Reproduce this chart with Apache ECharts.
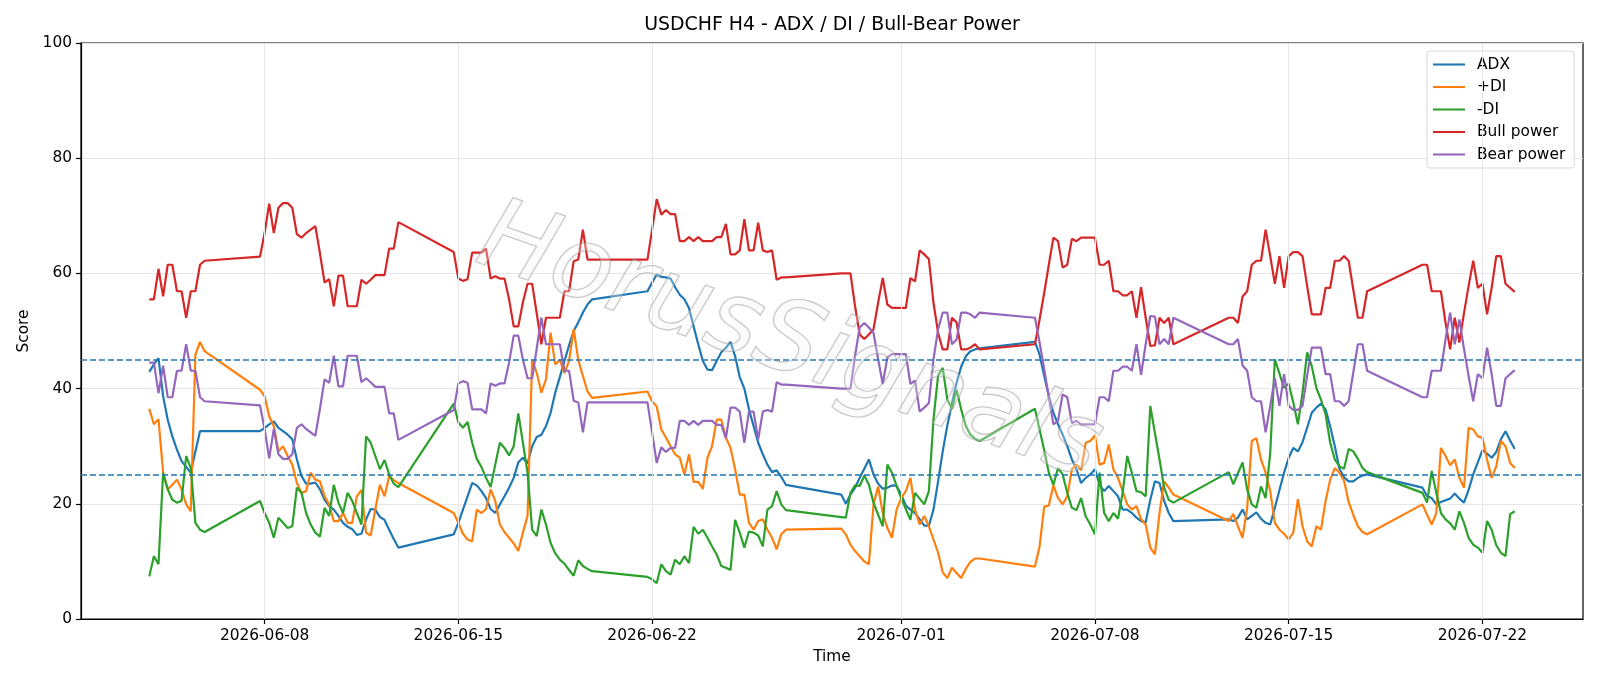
<!DOCTYPE html>
<html>
<head>
<meta charset="utf-8">
<script src="https://cdn.jsdelivr.net/npm/echarts@6.0.0/dist/echarts.min.js"></script>
<style>
html,body{margin:0;padding:0;background:#fff;}
#chart{width:1600px;height:686px;}
</style>
</head>
<body>
<div id="chart"></div>
<script>
// ---- DATA ----
const chartTitle = 'USDCHF H4 - ADX / DI / Bull-Bear Power';
const seriesNames = ['ADX', '+DI', '-DI', 'Bull power', 'Bear power'];
const xTickLabels = ['2026-06-08', '2026-06-15', '2026-06-22', '2026-07-01', '2026-07-08', '2026-07-15', '2026-07-22'];
const yTicks = [0, 20, 40, 60, 80, 100];
const refLevels = [45, 25];

const times = (
'06-03T20 06-04T00 06-04T04 06-04T08 06-04T12 06-04T16 06-04T20 06-05T00 06-05T04 06-05T08 06-05T12 06-05T16 06-05T20 ' +
'06-07T20 06-08T00 06-08T04 06-08T08 06-08T12 06-08T16 06-08T20 06-09T00 06-09T04 06-09T08 06-09T12 06-09T16 06-09T20 06-10T00 06-10T04 06-10T08 06-10T12 06-10T16 06-10T20 06-11T00 06-11T04 06-11T08 06-11T12 06-11T16 06-11T20 06-12T00 06-12T04 06-12T08 06-12T12 06-12T16 06-12T20 ' +
'06-14T20 06-15T00 06-15T04 06-15T08 06-15T12 06-15T16 06-15T20 06-16T00 06-16T04 06-16T08 06-16T12 06-16T16 06-16T20 06-17T00 06-17T04 06-17T08 06-17T12 06-17T16 06-17T20 06-18T00 06-18T04 06-18T08 06-18T12 06-18T16 06-18T20 06-19T00 06-19T04 06-19T08 06-19T12 06-19T16 06-19T20 ' +
'06-21T20 06-22T00 06-22T04 06-22T08 06-22T12 06-22T16 06-22T20 06-23T00 06-23T04 06-23T08 06-23T12 06-23T16 06-23T20 06-24T00 06-24T04 06-24T08 06-24T12 06-24T16 06-24T20 06-25T00 06-25T04 06-25T08 06-25T12 06-25T16 06-25T20 06-26T00 06-26T04 06-26T08 06-26T12 06-26T16 06-26T20 ' +
'06-28T20 06-29T00 06-29T04 06-29T08 06-29T12 06-29T16 06-29T20 06-30T00 06-30T04 06-30T08 06-30T12 06-30T16 06-30T20 07-01T00 07-01T04 07-01T08 07-01T12 07-01T16 07-01T20 07-02T00 07-02T04 07-02T08 07-02T12 07-02T16 07-02T20 07-03T00 07-03T04 07-03T08 07-03T12 07-03T16 07-03T20 ' +
'07-05T20 07-06T00 07-06T04 07-06T08 07-06T12 07-06T16 07-06T20 07-07T00 07-07T04 07-07T08 07-07T12 07-07T16 07-07T20 07-08T00 07-08T04 07-08T08 07-08T12 07-08T16 07-08T20 07-09T00 07-09T04 07-09T08 07-09T12 07-09T16 07-09T20 07-10T00 07-10T04 07-10T08 07-10T12 07-10T16 07-10T20 ' +
'07-12T20 07-13T00 07-13T04 07-13T08 07-13T12 07-13T16 07-13T20 07-14T00 07-14T04 07-14T08 07-14T12 07-14T16 07-14T20 07-15T00 07-15T04 07-15T08 07-15T12 07-15T16 07-15T20 07-16T00 07-16T04 07-16T08 07-16T12 07-16T16 07-16T20 07-17T00 07-17T04 07-17T08 07-17T12 07-17T16 07-17T20 ' +
'07-19T20 07-20T00 07-20T04 07-20T08 07-20T12 07-20T16 07-20T20 07-21T00 07-21T04 07-21T08 07-21T12 07-21T16 07-21T20 07-22T00 07-22T04 07-22T08 07-22T12 07-22T16 07-22T20 07-23T00 07-23T04'
).trim().split(/\s+/);

const adx = [
42.9, 44.2, 45.3, 38.7, 34.6, 31.7, 29.4, 27.4, 26.4, 25.4, 29.1, 32.6, 32.6,
32.6, 33.2, 33.8, 34.3, 33.2, 32.6, 32.0, 31.2, 27.7, 24.8, 23.5, 23.5, 23.7, 22.5, 20.7, 19.6, 19.0, 17.9, 16.7, 16.0, 15.6, 14.6, 14.8, 17.3, 19.1, 19.0, 17.7, 17.2, 15.5, 13.9, 12.4,
14.7, 16.7, 19.0, 21.3, 23.6, 23.2, 22.2, 21.0, 19.1, 18.4, 19.9, 21.3, 22.8, 24.5, 27.2, 28.0, 27.0, 30.0, 31.6, 32.0, 33.5, 35.8, 39.3, 42.0, 44.8, 47.5, 50.0, 51.5, 53.2, 54.6, 55.5,
56.9, 58.4, 59.8, 59.4, 59.3, 59.1, 57.6, 56.3, 55.5, 54.0, 50.8, 47.7, 44.8, 43.3, 43.2, 44.8, 46.3, 47.1, 48.1, 45.6, 42.0, 40.0, 36.4, 33.5, 30.6, 28.6, 26.8, 25.5, 25.8, 24.7, 23.3,
21.6, 20.0, 21.6, 22.8, 24.5, 26.1, 27.7, 25.1, 23.5, 22.6, 22.8, 23.2, 23.1, 21.6, 19.7, 19.0, 18.4, 17.3, 16.2, 16.2, 19.0, 23.9, 29.1, 33.6, 37.4, 41.0, 43.8, 45.6, 46.5, 46.8, 47.0,
48.1, 45.9, 42.2, 38.7, 35.8, 33.8, 32.0, 30.0, 27.7, 26.0, 23.6, 24.5, 25.1, 26.0, 23.3, 22.2, 23.1, 22.2, 21.3, 19.0, 19.0, 18.4, 17.6, 17.0, 16.8, 20.7, 23.9, 23.6, 20.5, 18.4, 17.0,
17.3, 17.0, 17.6, 19.0, 17.3, 17.9, 18.5, 17.4, 16.7, 16.4, 19.3, 22.4, 25.4, 28.0, 29.7, 29.1, 30.7, 33.2, 35.8, 36.7, 37.4, 36.4, 33.4, 30.0, 26.1, 24.6, 23.9, 23.9, 24.5, 24.9, 25.1,
22.8, 21.3, 21.0, 19.9, 20.3, 20.6, 20.9, 21.8, 20.9, 20.2, 22.4, 25.1, 27.2, 29.3, 28.7, 28.0, 29.0, 31.2, 32.6, 31.0, 29.5
];

const plusDI = [
36.5, 33.8, 34.7, 25.4, 22.5, 23.3, 24.2, 22.5, 19.9, 18.7, 45.9, 48.1, 46.5,
39.8, 38.7, 35.2, 33.5, 29.1, 30.0, 28.3, 26.8, 23.6, 21.9, 22.2, 25.4, 24.2, 23.9, 21.3, 19.9, 17.0, 17.0, 18.4, 16.7, 16.7, 21.3, 22.4, 15.0, 14.5, 19.0, 23.3, 21.3, 24.8, 24.1, 23.6,
18.4, 16.7, 14.8, 13.8, 13.5, 19.0, 18.4, 19.1, 22.5, 20.5, 16.4, 15.1, 14.1, 13.1, 11.8, 15.0, 17.9, 45.0, 42.7, 39.3, 41.6, 49.7, 44.2, 45.0, 42.7, 44.8, 50.3, 45.0, 42.2, 39.5, 38.4,
39.5, 37.8, 36.9, 32.9, 31.5, 30.0, 28.6, 28.0, 25.1, 28.6, 23.8, 23.8, 22.6, 28.0, 30.0, 34.6, 34.6, 31.5, 29.7, 26.0, 21.6, 21.6, 16.7, 15.5, 17.0, 17.3, 15.5, 14.1, 12.1, 14.7, 15.5,
15.7, 14.7, 12.9, 11.8, 10.9, 10.0, 9.5, 19.9, 23.0, 18.4, 15.8, 14.1, 19.0, 21.0, 22.2, 24.5, 19.0, 16.4, 17.9, 16.1, 13.8, 11.5, 8.1, 7.1, 8.9, 8.0, 7.1, 8.7, 9.9, 10.5, 10.5,
9.1, 12.6, 19.5, 19.7, 23.2, 21.0, 19.9, 21.3, 26.0, 26.8, 25.8, 30.6, 30.9, 31.9, 26.8, 27.1, 30.3, 26.0, 24.5, 22.2, 19.9, 19.0, 19.6, 17.3, 16.4, 12.4, 11.2, 18.4, 23.9, 22.8, 21.6,
17.0, 18.2, 16.1, 14.1, 19.3, 30.9, 31.4, 27.7, 25.4, 22.2, 16.7, 15.5, 14.8, 13.8, 15.0, 20.8, 16.1, 13.5, 12.6, 16.1, 15.5, 20.5, 24.2, 26.2, 25.4, 24.0, 20.3, 18.1, 16.1, 15.1, 14.7,
19.9, 18.1, 16.4, 18.4, 29.7, 28.3, 26.7, 27.7, 24.5, 22.8, 33.2, 32.9, 31.7, 31.5, 27.7, 24.5, 26.5, 30.9, 30.0, 27.1, 26.2
];

const minusDI = [
7.4, 10.9, 9.5, 25.4, 22.5, 20.7, 20.2, 20.5, 28.3, 26.2, 16.7, 15.5, 15.1,
20.5, 18.4, 16.7, 14.1, 17.6, 16.7, 15.8, 16.1, 22.8, 21.9, 18.4, 16.4, 15.0, 14.3, 19.3, 17.9, 23.3, 20.2, 18.4, 21.9, 20.5, 18.4, 16.4, 31.7, 30.6, 28.3, 26.0, 27.6, 25.1, 23.5, 22.9,
37.4, 34.1, 33.2, 34.2, 30.6, 27.8, 26.4, 24.5, 22.9, 26.8, 30.6, 29.7, 28.4, 30.0, 35.7, 30.6, 25.4, 15.5, 14.4, 19.0, 16.4, 13.2, 11.4, 10.3, 9.6, 8.5, 7.5, 10.2, 9.2, 8.7, 8.3,
7.3, 6.9, 6.2, 9.5, 8.3, 7.7, 10.3, 9.5, 10.9, 9.7, 16.0, 14.8, 15.5, 14.1, 12.6, 11.2, 9.2, 8.9, 8.5, 17.2, 15.0, 12.4, 15.2, 15.0, 14.5, 12.6, 19.0, 19.6, 22.2, 19.9, 18.9,
17.7, 17.6, 21.9, 23.2, 23.1, 24.9, 23.3, 20.2, 18.1, 16.1, 26.8, 25.4, 23.1, 21.0, 19.1, 17.2, 21.9, 20.9, 19.9, 22.2, 34.6, 42.3, 43.6, 38.1, 36.5, 39.8, 36.4, 33.5, 32.0, 31.3, 30.9,
36.5, 32.9, 29.3, 25.4, 23.3, 26.2, 25.1, 21.9, 19.3, 18.9, 21.0, 17.8, 16.4, 14.7, 25.4, 18.4, 17.0, 18.4, 17.4, 21.9, 28.3, 25.4, 22.2, 22.0, 21.3, 37.0, 32.3, 27.7, 22.8, 20.7, 20.2,
25.5, 23.4, 25.3, 27.2, 22.5, 19.9, 19.3, 23.0, 21.0, 28.9, 45.1, 42.6, 40.1, 40.9, 37.6, 33.8, 39.3, 46.3, 43.9, 40.1, 38.1, 35.5, 30.6, 27.7, 26.5, 26.1, 29.5, 29.1, 27.8, 26.2, 25.5,
21.9, 20.2, 25.7, 21.9, 18.4, 17.3, 16.6, 15.5, 18.7, 16.7, 14.1, 12.9, 12.4, 11.5, 17.0, 15.5, 12.8, 11.5, 10.9, 18.2, 18.7
];

const bullPower = [
55.5, 55.5, 60.8, 56.0, 61.5, 61.5, 56.9, 56.9, 52.3, 56.9, 56.9, 61.5, 62.2,
62.9, 67.0, 72.1, 67.0, 71.4, 72.2, 72.2, 71.4, 66.8, 66.2, 67.0, 67.6, 68.2, 63.5, 58.4, 59.0, 54.3, 59.6, 59.6, 54.3, 54.3, 54.3, 58.9, 58.2, 58.9, 59.7, 59.7, 59.7, 64.3, 64.3, 68.9,
63.7, 59.1, 58.7, 59.0, 63.6, 63.6, 63.6, 64.3, 59.1, 59.5, 59.1, 59.1, 55.5, 50.8, 50.8, 55.0, 58.2, 58.2, 53.0, 47.7, 52.3, 52.3, 52.3, 52.3, 56.9, 56.9, 62.1, 62.4, 67.6, 62.4, 62.4,
62.4, 67.6, 72.9, 70.2, 71.0, 70.3, 70.3, 65.6, 65.6, 66.3, 65.6, 66.3, 65.6, 65.6, 65.6, 66.3, 66.3, 68.6, 63.3, 63.3, 64.0, 69.4, 64.0, 64.0, 68.8, 64.0, 63.7, 64.0, 58.9, 59.3, 59.3,
60.0, 60.0, 60.0, 54.3, 49.4, 48.6, 49.4, 50.3, 54.9, 59.2, 54.6, 54.0, 54.0, 54.0, 54.0, 59.2, 58.6, 64.0, 63.3, 62.5, 54.9, 49.7, 46.8, 46.8, 52.3, 51.5, 46.8, 46.8, 47.1, 47.7, 46.8,
47.7, 52.0, 56.6, 61.5, 66.2, 65.6, 61.0, 61.5, 66.0, 65.6, 66.2, 66.2, 66.2, 66.2, 61.5, 61.5, 62.2, 56.9, 56.9, 56.2, 56.2, 56.9, 52.3, 57.6, 52.3, 47.4, 47.5, 52.3, 51.4, 52.3, 47.7,
52.3, 52.3, 51.4, 56.0, 56.9, 61.5, 62.2, 62.2, 67.6, 63.0, 58.2, 63.0, 57.5, 63.0, 63.7, 63.7, 63.0, 57.8, 52.9, 52.9, 52.9, 57.5, 57.5, 62.2, 62.2, 63.0, 62.2, 57.2, 52.3, 52.3, 56.9,
61.5, 61.5, 56.9, 56.9, 56.9, 51.4, 46.8, 52.3, 48.0, 53.1, 57.8, 62.2, 57.5, 58.2, 52.9, 57.5, 63.0, 63.0, 58.2, 57.5, 56.8
];

const bearPower = [
44.5, 44.5, 39.2, 44.0, 38.5, 38.5, 43.1, 43.1, 47.7, 43.1, 43.1, 38.5, 37.8,
37.1, 33.0, 27.9, 33.0, 28.6, 27.8, 27.8, 28.6, 33.2, 33.8, 33.0, 32.4, 31.8, 36.5, 41.6, 41.0, 45.7, 40.4, 40.4, 45.7, 45.7, 45.7, 41.1, 41.8, 41.1, 40.3, 40.3, 40.3, 35.7, 35.7, 31.1,
36.3, 40.9, 41.3, 41.0, 36.4, 36.4, 36.4, 35.7, 40.9, 40.5, 40.9, 40.9, 44.5, 49.2, 49.2, 45.0, 41.8, 41.8, 47.0, 52.3, 47.7, 47.7, 47.7, 47.7, 43.1, 43.1, 37.9, 37.6, 32.4, 37.6, 37.6,
37.6, 32.4, 27.1, 29.8, 29.0, 29.7, 29.7, 34.4, 34.4, 33.7, 34.4, 33.7, 34.4, 34.4, 34.4, 33.7, 33.7, 31.4, 36.7, 36.7, 36.0, 30.6, 36.0, 36.0, 31.2, 36.0, 36.3, 36.0, 41.1, 40.7, 40.7,
40.0, 40.0, 40.0, 45.7, 50.6, 51.4, 50.6, 49.7, 45.1, 40.8, 45.4, 46.0, 46.0, 46.0, 46.0, 40.8, 41.4, 36.0, 36.7, 37.5, 45.1, 50.3, 53.2, 53.2, 47.7, 48.5, 53.2, 53.2, 52.9, 52.3, 53.2,
52.3, 48.0, 43.4, 38.5, 33.8, 34.4, 39.0, 38.5, 34.0, 34.4, 33.8, 33.8, 33.8, 33.8, 38.5, 38.5, 37.8, 43.1, 43.1, 43.8, 43.8, 43.1, 47.7, 42.4, 47.7, 52.6, 52.5, 47.7, 48.6, 47.7, 52.3,
47.7, 47.7, 48.6, 44.0, 43.1, 38.5, 37.8, 37.8, 32.4, 37.0, 41.8, 37.0, 42.5, 37.0, 36.3, 36.3, 37.0, 42.2, 47.1, 47.1, 47.1, 42.5, 42.5, 37.8, 37.8, 37.0, 37.8, 42.8, 47.7, 47.7, 43.1,
38.5, 38.5, 43.1, 43.1, 43.1, 48.6, 53.2, 47.7, 52.0, 46.9, 42.2, 37.8, 42.5, 41.8, 47.1, 42.5, 37.0, 37.0, 41.8, 42.5, 43.2
];

// ---- helpers ----
function parseBar(s) {
  const [md, hh] = s.split('T');
  const [m, d] = md.split('-').map(Number);
  return Date.UTC(2026, m - 1, d, Number(hh));
}
function parseDay(s) {
  const [y, m, d] = s.split('-').map(Number);
  return Date.UTC(y, m - 1, d);
}
function pad(n) { return (n < 10 ? '0' : '') + n; }
function fmtDay(v) {
  const dt = new Date(v);
  return dt.getUTCFullYear() + '-' + pad(dt.getUTCMonth() + 1) + '-' + pad(dt.getUTCDate());
}

const tNum = times.map(parseBar);
const tickVals = xTickLabels.map(parseDay);
const span = tNum[tNum.length - 1] - tNum[0];
const xMin = tNum[0] - 0.05 * span;
const xMax = tNum[tNum.length - 1] + 0.05 * span;

const colors = ['#1f77b4', '#ff7f0e', '#2ca02c', '#d62728', '#9467bd'];
const valueLists = [adx, plusDI, minusDI, bullPower, bearPower];
const FONT = 'DejaVu Sans';
const FS = 15.4;
const LINE_ICON = 'path://M0,0L40,0L40,2.6L0,2.6Z';

const series = seriesNames.map((name, k) => ({
  name: name,
  type: 'line',
  data: tNum.map((t, i) => [t, valueLists[k][i]]),
  symbol: 'none',
  showSymbol: false,
  lineStyle: { color: colors[k], width: 2.2 },
  itemStyle: { color: colors[k] },
  emphasis: { disabled: true },
  animation: false
}));
series[0].markLine = {
  silent: true,
  symbol: 'none',
  label: { show: false },
  animation: false,
  lineStyle: { color: '#1f77b4', type: [6, 3], width: 1.7 },
  data: refLevels.map(v => ({ yAxis: v }))
};
// vertical grid lines at the date ticks (drawn through the x scale)
series.push({
  name: '_grid',
  type: 'line',
  data: [],
  silent: true,
  z: 0,
  markLine: {
    silent: true,
    symbol: 'none',
    label: { show: false },
    animation: false,
    lineStyle: { color: '#e6e6e6', type: 'solid', width: 1 },
    data: tickVals.map(v => ({ xAxis: v }))
  }
});

const chart = echarts.init(document.getElementById('chart'), null, { renderer: 'canvas' });
chart.setOption({
  animation: false,
  backgroundColor: '#ffffff',
  title: {
    text: chartTitle,
    left: 832,
    top: 16,
    textAlign: 'center',
    padding: 0,
    textStyle: { fontFamily: FONT, fontSize: 18.9, fontWeight: 'normal', color: '#000' }
  },
  grid: {
    left: 81, right: 17, top: 43, bottom: 67,
    show: true, borderColor: '#000', borderWidth: 1.2, backgroundColor: 'transparent'
  },
  legend: {
    data: seriesNames.map(n => ({ name: n, icon: LINE_ICON })),
    orient: 'vertical',
    left: 1427,
    top: 51,
    itemWidth: 32,
    itemHeight: 14,
    itemGap: 7.5,
    symbolKeepAspect: true,
    padding: [6, 9, 6, 6],
    backgroundColor: 'rgba(255,255,255,0.85)',
    borderColor: '#d8d8d8',
    borderWidth: 1,
    borderRadius: 3,
    textStyle: { fontFamily: FONT, fontSize: FS, color: '#000', padding: [0, 0, 0, 7] }
  },
  xAxis: {
    type: 'value',
    min: xMin,
    max: xMax,
    scale: true,
    name: 'Time',
    nameLocation: 'middle',
    nameGap: 30,
    nameTextStyle: { fontFamily: FONT, fontSize: FS, color: '#000' },
    axisLine: { show: true, lineStyle: { color: '#000', width: 1.2 } },
    axisTick: { show: true, length: 5, customValues: tickVals, lineStyle: { color: '#000', width: 1.2 } },
    axisLabel: {
      customValues: tickVals,
      margin: 9,
      fontFamily: FONT, fontSize: FS, color: '#000',
      formatter: v => fmtDay(v),
      showMinLabel: true, showMaxLabel: true
    },
    splitLine: { show: false }
  },
  yAxis: {
    type: 'value',
    min: yTicks[0],
    max: yTicks[yTicks.length - 1],
    interval: 20,
    name: 'Score',
    nameLocation: 'middle',
    nameGap: 47,
    nameRotate: 90,
    nameTextStyle: { fontFamily: FONT, fontSize: FS, color: '#000' },
    axisLine: { show: true, lineStyle: { color: '#000', width: 1.2 } },
    axisTick: { show: true, length: 5, lineStyle: { color: '#000', width: 1.2 } },
    axisLabel: { margin: 9, fontFamily: FONT, fontSize: FS, color: '#000' },
    splitLine: { show: true, lineStyle: { color: '#e6e6e6', width: 1 } }
  },
  graphic: [
    {
      type: 'text',
      x: 789, y: 345,
      rotation: -0.34,
      z: 100,
      silent: true,
      style: {
        text: 'HorusSignals',
        font: 'italic 100px "DejaVu Sans"',
        fill: 'rgba(245,245,245,0.3)',
        stroke: 'rgba(140,140,140,0.5)',
        lineWidth: 1.4,
        align: 'center',
        verticalAlign: 'middle',
        shadowColor: 'rgba(0,0,0,0.18)',
        shadowBlur: 2,
        shadowOffsetX: 3,
        shadowOffsetY: 3
      }
    }
  ],
  series: series
});
</script>
</body>
</html>
